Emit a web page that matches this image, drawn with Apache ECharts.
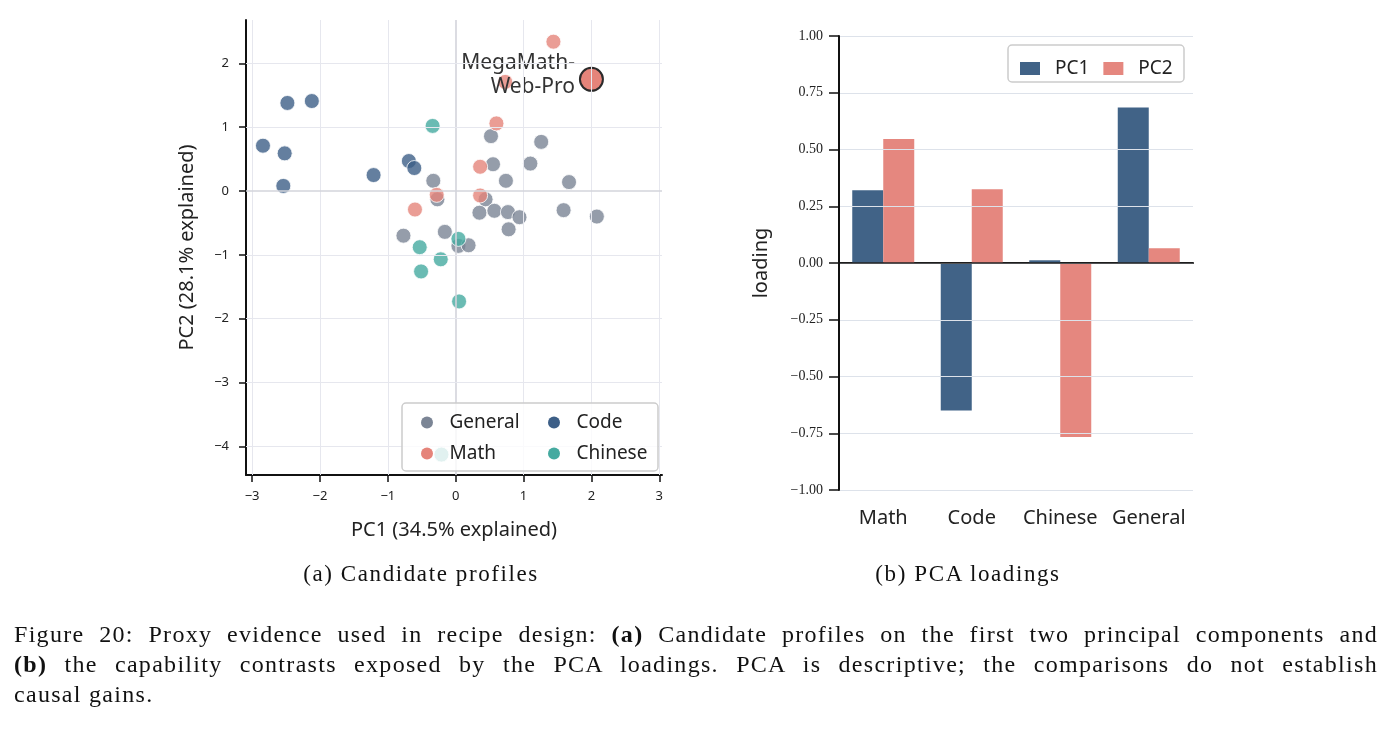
<!DOCTYPE html>
<html>
<head>
<meta charset="utf-8">
<script src="https://cdn.jsdelivr.net/npm/echarts@6.0.0/dist/echarts.min.js"></script>
<style>
  body { margin: 0; background: #fff; }
  #main { position: absolute; left: 0; top: 0; width: 1392px; height: 733px; }
  #cap { position: absolute; left: 14px; top: 619px; width: 1364px;
         font-family: 'Liberation Serif', serif; font-size: 24px; letter-spacing: 1.3px;
         line-height: 30px; color: #111; }
  #cap .j { text-align: justify; text-align-last: justify; }
  .sub { position: absolute; top: 559px; width: 400px; text-align: center;
         font-family: 'Liberation Serif', serif; font-size: 23px; letter-spacing: 1.6px;
         line-height: 30px; color: #111; }
</style>
</head>
<body>
<div id="main"></div>
<div class="sub" style="left:221px">(a) Candidate profiles</div>
<div class="sub" style="left:768px">(b) PCA loadings</div>
<div id="cap">
  <div class="j">Figure 20: Proxy evidence used in recipe design: <b>(a)</b> Candidate profiles on the first two principal components and</div>
  <div class="j"><b>(b)</b> the capability contrasts exposed by the PCA loadings. PCA is descriptive; the comparisons do not establish</div>
  <div>causal gains.</div>
</div>
<script>
var myChart = echarts.init(document.getElementById('main'));

// (a) candidate profiles, [PC1, PC2]
var generalPts = [[0.52, 0.86], [1.26, 0.77], [0.55, 0.42], [1.10, 0.43], [-0.33, 0.16], [0.74, 0.16],
  [1.67, 0.14], [-0.27, -0.13], [0.44, -0.13], [0.35, -0.34], [0.57, -0.31], [0.77, -0.33],
  [0.94, -0.41], [1.59, -0.30], [2.08, -0.40], [0.78, -0.60], [-0.77, -0.70], [-0.16, -0.64],
  [0.04, -0.86], [0.19, -0.85]];
var codePts = [[-2.48, 1.38], [-2.12, 1.41], [-2.84, 0.71], [-2.52, 0.59], [-0.69, 0.47],
  [-0.61, 0.36], [-1.21, 0.25], [-2.54, 0.08]];
var mathPts = [[1.44, 2.34], [0.73, 1.71], [0.60, 1.06], [0.36, 0.38], [-0.28, -0.06],
  [0.36, -0.07], [-0.60, -0.29]];
var chinesePts = [[-0.34, 1.02], [0.04, -0.75], [-0.53, -0.88], [-0.22, -1.07], [-0.51, -1.26],
  [0.05, -1.73], [-0.21, -4.13]];
var highlightPts = [[2.00, 1.75]];
var highlightName = 'MegaMath-\nWeb-Pro';

var xTicks = [-3, -2, -1, 0, 1, 2, 3];
var yTicks = [-4, -3, -2, -1, 0, 1, 2];

// (b) PCA loadings
var categories = ['Math', 'Code', 'Chinese', 'General'];
var pc1 = [0.32, -0.65, 0.012, 0.685];
var pc2 = [0.546, 0.325, -0.766, 0.065];

var sans = 'Noto Sans';
var serif = 'Liberation Serif';
var colors = { General: '#7b8595', Code: '#3d5f87', Math: '#e5847a', Chinese: '#45aaa0' };

var minus = function (v) { return String(v).replace('-', '\u2212'); };

var gridStyle = { color: '#e6e7ee', width: 1, type: 'solid' };
var zeroStyle = { color: '#d3d4db', width: 1.6, type: 'solid' };

var gridLines = [];
xTicks.forEach(function (v) { gridLines.push({ xAxis: v, lineStyle: v === 0 ? zeroStyle : gridStyle }); });
yTicks.forEach(function (v) { gridLines.push({ yAxis: v, lineStyle: v === 0 ? zeroStyle : gridStyle }); });

var pointSeries = function (name, data) {
  return {
    name: name,
    type: 'scatter',
    xAxisIndex: 0,
    yAxisIndex: 0,
    z: 3,
    symbolSize: 15,
    itemStyle: { color: colors[name], opacity: 0.8, borderColor: '#fff', borderWidth: 1 },
    data: data
  };
};

var legendText = { fontFamily: sans, fontSize: 19, lineHeight: 19, color: '#222' };

option = {
  animation: false,
  grid: [
    { left: 246, right: 730, top: 20, bottom: 258 },
    { left: 839, right: 199, top: 36, bottom: 243 }
  ],
  xAxis: [
    {
      gridIndex: 0,
      type: 'value',
      min: -3.09,
      max: 3.04,
      name: 'PC1 (34.5% explained)',
      nameLocation: 'middle',
      nameGap: 45,
      nameTextStyle: { fontFamily: sans, fontSize: 20, color: '#222' },
      axisLine: { onZero: false, lineStyle: { color: '#111', width: 2 } },
      axisTick: { length: 7, customValues: xTicks, lineStyle: { color: '#111', width: 1.5 } },
      axisLabel: { customValues: xTicks, margin: 15, fontFamily: sans, fontSize: 13, color: '#222', formatter: minus },
      splitLine: { show: false }
    },
    {
      gridIndex: 1,
      type: 'category',
      data: categories,
      axisLine: { lineStyle: { color: '#111', width: 2 } },
      axisTick: { alignWithLabel: true, length: 9, lineStyle: { color: '#111', width: 1.5 } },
      axisLabel: { interval: 0, hideOverlap: false, margin: 18, fontFamily: sans, fontSize: 20, color: '#222' }
    }
  ],
  yAxis: [
    {
      gridIndex: 0,
      type: 'value',
      min: -4.45,
      max: 2.68,
      name: 'PC2 (28.1% explained)',
      nameLocation: 'middle',
      nameGap: 49,
      nameTextStyle: { fontFamily: sans, fontSize: 20, color: '#222' },
      axisLine: { onZero: false, lineStyle: { color: '#111', width: 2 } },
      axisTick: { length: 7, customValues: yTicks, lineStyle: { color: '#111', width: 1.5 } },
      axisLabel: { customValues: yTicks, margin: 17, fontFamily: sans, fontSize: 13, color: '#222', formatter: minus },
      splitLine: { show: false }
    },
    {
      gridIndex: 1,
      type: 'value',
      min: -1,
      max: 1,
      interval: 0.25,
      z: 5,
      name: 'loading',
      nameLocation: 'middle',
      nameGap: 68,
      nameTextStyle: { fontFamily: sans, fontSize: 20, color: '#222' },
      axisLine: { show: true, onZero: false, lineStyle: { color: '#111', width: 2 } },
      axisTick: { show: true, length: 10, lineStyle: { color: '#111', width: 1.5 } },
      axisLabel: {
        margin: 16, fontFamily: serif, fontSize: 14, color: '#222',
        formatter: function (v) { return minus(v.toFixed(2)); }
      },
      splitLine: { show: true, lineStyle: { color: '#dde2ea', width: 1 } }
    }
  ],
  legend: [
    {
      data: ['General', 'Math'], orient: 'vertical', left: 416, top: 408,
      itemWidth: 35, itemHeight: 12, itemGap: 12, icon: 'circle', z: 20,
      itemStyle: { opacity: 1, borderWidth: 0 }, textStyle: legendText
    },
    {
      data: ['Code', 'Chinese'], orient: 'vertical', left: 543, top: 408,
      itemWidth: 35, itemHeight: 12, itemGap: 12, icon: 'circle', z: 20,
      itemStyle: { opacity: 1, borderWidth: 0 }, textStyle: legendText
    },
    {
      data: ['PC1', 'PC2'], orient: 'horizontal', left: 1015, top: 54,
      itemWidth: 20, itemHeight: 13, itemGap: 14, icon: 'rect', z: 20,
      textStyle: { fontFamily: sans, fontSize: 19, lineHeight: 19, color: '#222', padding: [0, 0, 0, 10] }
    }
  ],
  graphic: [
    {
      type: 'rect', z: 10, silent: true,
      shape: { x: 402, y: 403, width: 256, height: 68, r: 4 },
      style: { fill: 'rgba(255,255,255,0.8)', stroke: '#cccccc', lineWidth: 1.5 }
    },
    {
      type: 'rect', z: 10, silent: true,
      shape: { x: 1008, y: 45, width: 176, height: 37, r: 4 },
      style: { fill: '#fff', stroke: '#cccccc', lineWidth: 1.5 }
    }
  ],
  series: [
    {
      name: 'grid',
      type: 'scatter',
      xAxisIndex: 0,
      yAxisIndex: 0,
      z: 1,
      silent: true,
      data: [],
      markLine: { silent: true, symbol: 'none', label: { show: false }, data: gridLines }
    },
    pointSeries('General', generalPts),
    pointSeries('Code', codePts),
    pointSeries('Math', mathPts),
    pointSeries('Chinese', chinesePts),
    {
      name: 'highlight',
      type: 'scatter',
      xAxisIndex: 0,
      yAxisIndex: 0,
      z: 4,
      symbolSize: 23,
      itemStyle: { color: colors.Math, opacity: 1, borderColor: '#2b2b2b', borderWidth: 2 },
      label: {
        show: true, position: 'left', distance: 4, offset: [0, -4],
        formatter: highlightName, align: 'right',
        fontFamily: sans, fontSize: 21, lineHeight: 24, color: '#333',
        textBorderWidth: 0
      },
      data: highlightPts
    },
    {
      name: 'PC1',
      type: 'bar',
      xAxisIndex: 1,
      yAxisIndex: 1,
      barWidth: 31,
      barGap: '0%',
      itemStyle: { color: '#416387' },
      markLine: {
        silent: true, symbol: 'none', label: { show: false },
        lineStyle: { color: '#222', width: 1.5, type: 'solid' },
        data: [{ yAxis: 0 }]
      },
      data: pc1
    },
    {
      name: 'PC2',
      type: 'bar',
      xAxisIndex: 1,
      yAxisIndex: 1,
      barWidth: 31,
      barGap: '0%',
      itemStyle: { color: '#e5877f' },
      data: pc2
    }
  ]
};

myChart.setOption(option);
</script>
</body>
</html>
